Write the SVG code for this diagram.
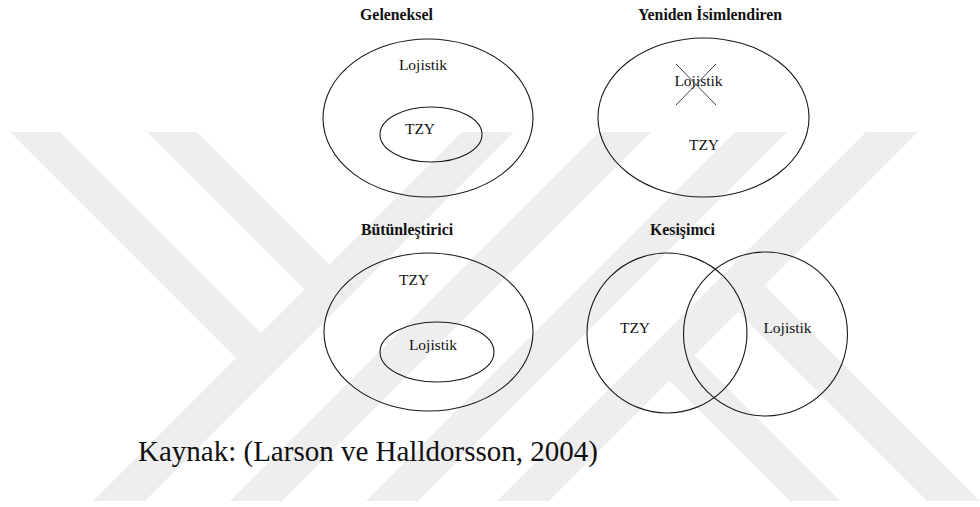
<svg xmlns="http://www.w3.org/2000/svg" width="980" height="507" viewBox="0 0 980 507">
<style>
.wm{fill:#eeeeee;stroke:none}
.sh{fill:none;stroke:#1a1a1a;stroke-width:1.1}
.title{font-family:"Liberation Serif","Times New Roman",serif;font-weight:bold;font-size:15.8px;fill:#111;text-anchor:middle}
.lbl{font-family:"Liberation Serif","Times New Roman",serif;font-size:15.5px;fill:#111;text-anchor:middle}
.src{font-family:"Liberation Serif","Times New Roman",serif;font-size:29px;fill:#111}
.cross{stroke:#444;stroke-width:1}
</style>
<rect width="980" height="507" fill="#ffffff"/>
<g id="watermark">
<polygon class="wm" points="462,132 514,132 145,501 93,501"/>
<polygon class="wm" points="599,132 651,132 282,501 230,501"/>
<polygon class="wm" points="735,132 787,132 418,501 366,501"/>
<polygon class="wm" points="866,132 918,132 549,501 497,501"/>
<polygon class="wm" points="10,132 60,132 261,333 236,358"/>
<polygon class="wm" points="147,132 197,132 329.5,264.5 304.5,289.5"/>
<polygon class="wm" points="669.5,380.5 694.5,355.5 840,501 790,501"/>
<polygon class="wm" points="738,312 764.5,285.5 980,501 927,501"/>
</g>
<g id="geleneksel">
<text class="title" x="396.5" y="20">Geleneksel</text>
<ellipse class="sh" cx="428" cy="118" rx="105" ry="79"/>
<text class="lbl" x="423" y="70">Lojistik</text>
<ellipse class="sh" cx="431" cy="134.5" rx="51" ry="27.5"/>
<text class="lbl" x="420" y="134">TZY</text>
</g>
<g id="yeniden">
<text class="title" x="710" y="20">Yeniden İsimlendiren</text>
<ellipse class="sh" cx="703.5" cy="117.5" rx="105.5" ry="79.5"/>
<text class="lbl" x="698.5" y="86">Lojistik</text>
<line class="cross" x1="676" y1="64" x2="716" y2="105"/>
<line class="cross" x1="716" y1="64" x2="676" y2="105"/>
<text class="lbl" x="704" y="150">TZY</text>
</g>
<g id="butunlestirici">
<text class="title" x="407" y="235">Bütünleştirici</text>
<ellipse class="sh" cx="428.5" cy="332" rx="104.5" ry="79"/>
<text class="lbl" x="414" y="285">TZY</text>
<ellipse class="sh" cx="437" cy="352" rx="57" ry="30"/>
<text class="lbl" x="433" y="350">Lojistik</text>
</g>
<g id="kesisimci">
<text class="title" x="682.5" y="235">Kesişimci</text>
<circle class="sh" cx="667" cy="333" r="80"/>
<circle class="sh" cx="765.5" cy="334" r="82"/>
<text class="lbl" x="635" y="333">TZY</text>
<text class="lbl" x="787.5" y="333">Lojistik</text>
</g>
<g id="connectors"></g>
<text class="src" x="138" y="461">Kaynak: (Larson ve Halldorsson, 2004)</text>
</svg>
